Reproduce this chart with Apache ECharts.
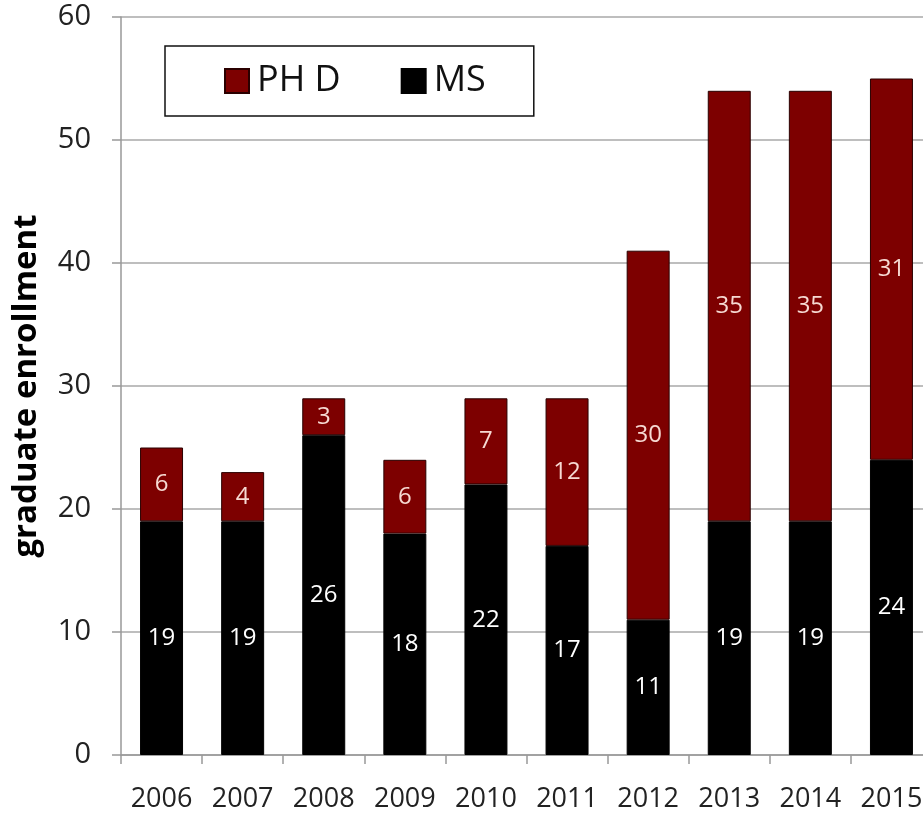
<!DOCTYPE html>
<html>
<head>
<meta charset="utf-8">
<script src="https://cdn.jsdelivr.net/npm/echarts@6/dist/echarts.min.js"></script>
<style>
html,body{margin:0;padding:0;background:#fff;}
#chart{width:923px;height:814px;}
</style>
</head>
<body>
<div id="chart"></div>
<script>
const years = ['2006','2007','2008','2009','2010','2011','2012','2013','2014','2015'];
const msValues = [19, 19, 26, 18, 22, 17, 11, 19, 19, 24];
const phdValues = [6, 4, 3, 6, 7, 12, 30, 35, 35, 31];
const yTicks = {min: 0, max: 60, interval: 10};
const seriesNames = ['PH D', 'MS'];

const FONT = '"Open Sans", sans-serif';
const chart = echarts.init(document.getElementById('chart'), null, {renderer: 'canvas'});
chart.setOption({
  animation: false,
  backgroundColor: '#ffffff',
  grid: {left: 121, width: 811, top: 17, height: 738, containLabel: false, outerBoundsMode: 'none'},
  legend: {
    data: seriesNames,
    left: 165, top: 46,
    orient: 'horizontal',
    itemWidth: 24, itemHeight: 24, itemGap: 60,
    padding: [17, 48, 17, 59],
    borderColor: '#111', borderWidth: 1.5,
    textStyle: {fontFamily: FONT, fontSize: 36, color: '#111', padding: [0,0,0,3]},
    icon: 'rect'
  },
  xAxis: {
    type: 'category',
    data: years,
    axisLine: {lineStyle: {color: '#999', width: 1.5}},
    axisTick: {show: true, length: 9, lineStyle: {color: '#999', width: 1.5}},
    axisLabel: {fontFamily: FONT, fontSize: 27, color: '#222', margin: 31, interval: 0, hideOverlap: false}
  },
  yAxis: {
    type: 'value',
    min: yTicks.min, max: yTicks.max, interval: yTicks.interval,
    name: 'graduate enrollment',
    nameLocation: 'middle',
    nameGap: 78,
    nameTextStyle: {fontFamily: FONT, fontSize: 33, fontWeight: 'bold', color: '#000'},
    axisLine: {show: true, lineStyle: {color: '#999', width: 1.5}},
    axisTick: {show: true, length: 9, lineStyle: {color: '#999', width: 1.5}},
    axisLabel: {fontFamily: FONT, fontSize: 29, color: '#222', margin: 30},
    splitLine: {lineStyle: {color: '#a8a8a8', width: 1.5}}
  },
  series: [
    {
      name: 'MS', type: 'bar', stack: 'total', data: msValues,
      barWidth: '53%',
      itemStyle: {color: '#000000', borderColor: '#000', borderWidth: 1},
      label: {show: true, position: 'inside', color: '#ffffff', fontFamily: FONT, fontSize: 24}
    },
    {
      name: 'PH D', type: 'bar', stack: 'total', data: phdValues,
      barWidth: '53%',
      itemStyle: {color: '#7d0000', borderColor: '#2a0000', borderWidth: 1},
      label: {show: true, position: 'inside', color: '#f6d9d2', fontFamily: FONT, fontSize: 24}
    }
  ]
});
</script>
</body>
</html>
